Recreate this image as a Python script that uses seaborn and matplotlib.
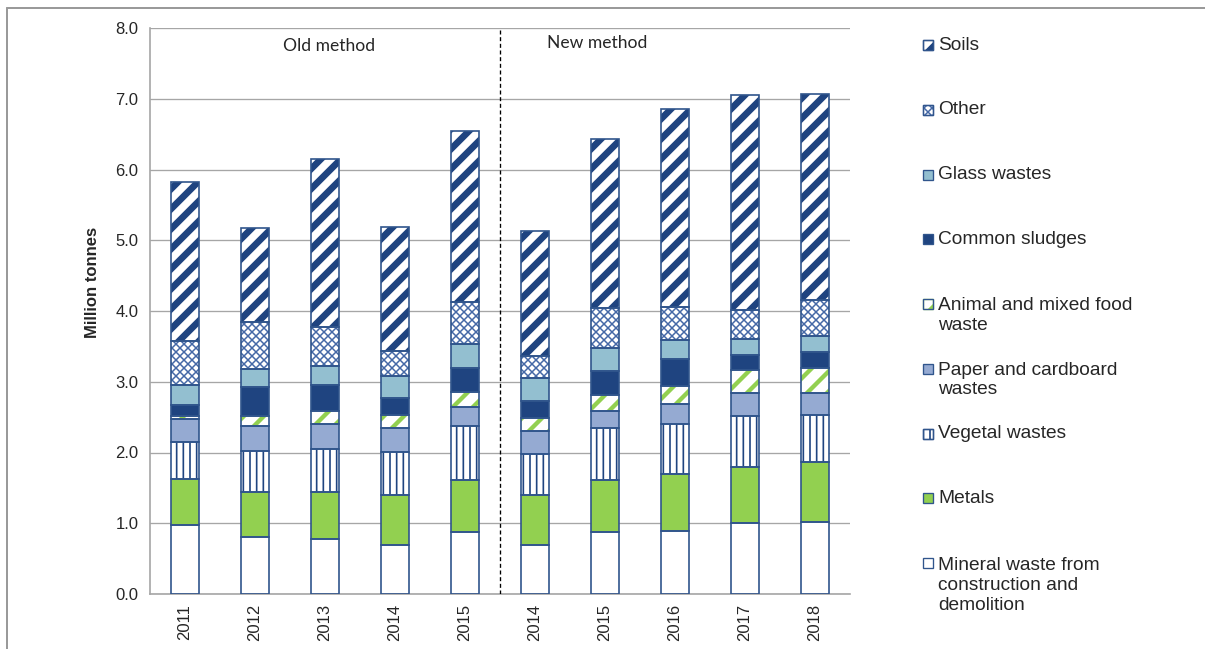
import matplotlib
matplotlib.use("Agg")
import matplotlib.pyplot as plt
from matplotlib.lines import Line2D
from matplotlib.patches import Rectangle
import numpy as np
import seaborn as sns

# Data (million tonnes)

years = ["2011", "2012", "2013", "2014", "2015", "2014", "2015", "2016", "2017", "2018"]
slots = [f"{y}_{'old' if i < 5 else 'new'}" for i, y in enumerate(years)]

mineral = [0.98, 0.81, 0.78, 0.69, 0.87, 0.69, 0.87, 0.89, 1.00, 1.02]
metals = [0.65, 0.63, 0.66, 0.71, 0.74, 0.71, 0.74, 0.80, 0.80, 0.84]
vegetal = [0.52, 0.58, 0.61, 0.61, 0.77, 0.58, 0.73, 0.71, 0.71, 0.67]
paper = [0.32, 0.36, 0.35, 0.33, 0.27, 0.32, 0.25, 0.28, 0.33, 0.31]
animal = [0.05, 0.13, 0.18, 0.19, 0.20, 0.19, 0.22, 0.26, 0.32, 0.36]
sludges = [0.15, 0.41, 0.38, 0.24, 0.35, 0.24, 0.34, 0.38, 0.22, 0.22]
glass = [0.28, 0.26, 0.26, 0.31, 0.33, 0.32, 0.32, 0.27, 0.22, 0.22]
other = [0.63, 0.67, 0.55, 0.35, 0.60, 0.32, 0.57, 0.47, 0.42, 0.52]
soils = [2.24, 1.32, 2.38, 1.76, 2.41, 1.76, 2.39, 2.80, 3.03, 2.91]

method_labels = ["Old method", "New method"]

# Styling

NAVY = "#1F4480"
OUTLINE = "#30558C"
GREEN = "#92D050"
GRID = "#A6A6A6"

# label, values, face, hatch, hatch colour, hatch width (bottom to top)
series = [
    ("Mineral waste from\nconstruction and\ndemolition", mineral, "white", None, OUTLINE, 1.0),
    ("Metals", metals, GREEN, None, GREEN, 1.0),
    ("Vegetal wastes", vegetal, "white", "|||", NAVY, 1.0),
    ("Paper and cardboard\nwastes", paper, "#95AAD2", None, "#95AAD2", 1.0),
    ("Animal and mixed food\nwaste", animal, "white", "//", GREEN, 2.6),
    ("Common sludges", sludges, NAVY, None, NAVY, 1.0),
    ("Glass wastes", glass, "#93BFD0", None, "#93BFD0", 1.0),
    ("Other", other, "white", "xxxxx", "#4468A6", 0.9),
    ("Soils", soils, "white", "//", NAVY, 4.0),
]

DPI = 120
W, H = 1205, 649


def main():
    sns.set_style("white")
    plt.rcParams["font.family"] = ["Liberation Sans", "DejaVu Sans"]

    fig = plt.figure(figsize=(W / DPI, H / DPI), dpi=DPI)
    ax = fig.add_axes([150 / W, 1 - 594 / H, 700 / W, 566 / H])

    bottom = np.zeros(len(slots))

    for label, values, face, hatch, hcolor, hlw in series:
        values = np.array(values)
        n_before = len(ax.patches)
        with plt.rc_context({"hatch.linewidth": hlw}):
            sns.barplot(
                x=slots, y=values, order=slots, color=face, saturation=1,
                width=0.4, bottom=bottom, hatch=hatch, edgecolor=hcolor,
                linewidth=0, ax=ax, zorder=2
            )
        for p in ax.patches[n_before:]:
            if hasattr(p, "set_hatch_linewidth"):
                p.set_hatch_linewidth(hlw)
        # outline of each segment
        sns.barplot(
            x=slots, y=values, order=slots, color=OUTLINE, fill=False,
            width=0.4, bottom=bottom, linewidth=1.0, ax=ax, zorder=3
        )
        bottom = bottom + values

    # Axes
    ax.set_xlim(-0.5, len(slots) - 0.5)
    ax.set_ylim(0, 8)
    ax.set_yticks(np.arange(0, 9, 1))
    ax.set_yticklabels([f"{v:.1f}" for v in np.arange(0, 9, 1)])
    ax.set_xticks(range(len(slots)))
    ax.set_xticklabels(years, rotation=90)
    ax.set_xticks(np.arange(-0.5, len(slots), 1), minor=True)
    ax.tick_params(axis="x", which="major", length=0, labelsize=10, pad=6)
    ax.tick_params(axis="x", which="minor", length=4, color=GRID, width=1)
    ax.tick_params(axis="y", length=4, color=GRID, width=1, labelsize=10, pad=3)
    ax.set_xlabel("")
    ax.set_ylabel("Million tonnes", fontsize=10, fontweight="bold")
    ax.yaxis.set_label_coords(-0.072, 0.55)

    ax.grid(axis="y", color=GRID, linewidth=0.8)
    ax.set_axisbelow(True)
    for side in ["top", "right"]:
        ax.spines[side].set_visible(False)
    for side in ["left", "bottom"]:
        ax.spines[side].set_color(GRID)
        ax.spines[side].set_linewidth(1.0)

    # Method separator
    ax.axvline(4.5, color="black", linestyle=(0, (3, 2)), linewidth=0.8, zorder=4)
    ax.text(0.256, 0.968, method_labels[0], transform=ax.transAxes, ha="center",
            va="center", fontsize=10.5, family=["Lato", "DejaVu Sans"])
    ax.text(0.639, 0.973, method_labels[1], transform=ax.transAxes, ha="center",
            va="center", fontsize=10.5, family=["Lato", "DejaVu Sans"])

    # Legend (evenly spaced rows, as in the original)
    row_y = 45
    for label, values, face, hatch, hcolor, hlw in reversed(series):
        n_lines = label.count("\n") + 1
        rect = Rectangle(
            (923 / W, 1 - (row_y + 5) / H), 10 / W, 10 / H,
            transform=fig.transFigure, facecolor=face, hatch=hatch,
            edgecolor=hcolor if hatch else OUTLINE, linewidth=0.8
        )
        if hatch and hasattr(rect, "set_hatch_linewidth"):
            rect.set_hatch_linewidth(hlw)
        fig.add_artist(rect)
        if hatch:
            fig.add_artist(Rectangle(
                (923 / W, 1 - (row_y + 5) / H), 10 / W, 10 / H,
                transform=fig.transFigure, facecolor="none",
                edgecolor=OUTLINE, linewidth=0.8
            ))
        fig.text(938 / W, 1 - (row_y + (n_lines - 1) * 11.3) / H, label,
                 ha="left", va="center", fontsize=11.5, linespacing=1.2)
        row_y += 64.75

    # Chart frame
    fx, fy = 7 / W, 1 - 8 / H
    fig.add_artist(Line2D([fx, 1], [fy, fy], transform=fig.transFigure,
                          color="#9A9A9A", linewidth=1.2))
    fig.add_artist(Line2D([fx, fx], [fy, 0], transform=fig.transFigure,
                          color="#9A9A9A", linewidth=1.2))

    fig.savefig("out.png", dpi=DPI)
    plt.close(fig)


if __name__ == "__main__":
    main()
